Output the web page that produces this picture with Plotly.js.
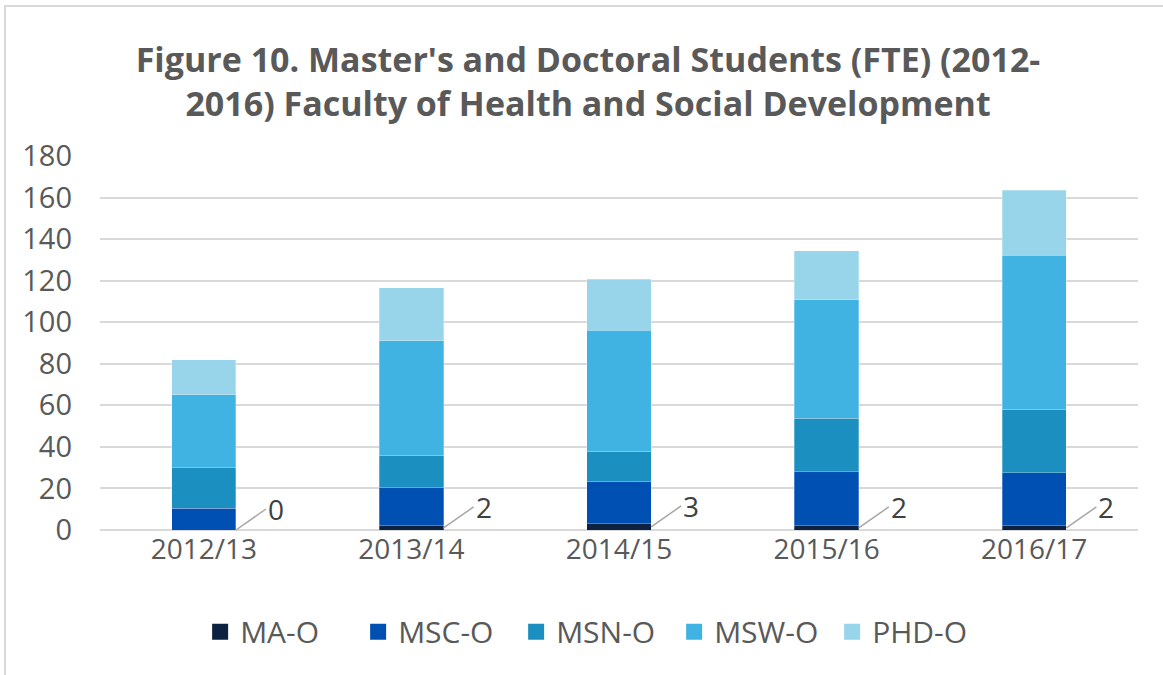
<!DOCTYPE html>
<html>
<head>
<meta charset="utf-8">
<script src="https://cdn.plot.ly/plotly-3.0.1.min.js"></script>
<style>
  html, body { margin: 0; padding: 0; background: #ffffff; }
  #wrap { position: relative; width: 1163px; height: 675px; overflow: hidden; }
  #frame { position: absolute; left: 4px; top: 5px; width: 1200px; height: 700px;
           border-top: 2px solid #d9d9d9; border-left: 2px solid #d9d9d9; pointer-events: none; }
  #chart { position: absolute; left: 0; top: 0; width: 1163px; height: 675px; }
</style>
</head>
<body>
<div id="wrap">
  <div id="chart"></div>
  <div id="frame"></div>
</div>
<script>
// ---- data ----
const categories = ["2012/13", "2013/14", "2014/15", "2015/16", "2016/17"];
const seriesNames = ["MA-O", "MSC-O", "MSN-O", "MSW-O", "PHD-O"];
const maO  = [0, 2, 3, 2, 2];
const mscO = [10.5, 18.4, 20.4, 26.1, 25.6];
const msnO = [19.5, 15.4, 14.6, 25.7, 30.6];
const mswO = [35, 55.2, 58.2, 56.9, 74.1];
const phdO = [17, 25.5, 24.4, 23.7, 31.3];
const yTicks = [0, 20, 40, 60, 80, 100, 120, 140, 160, 180];
const titleText = "Figure 10. Master's and Doctoral Students (FTE) (2012-<br>2016) Faculty of Health and Social Development";

// ---- styles ----
const colors = ["#0d2240", "#0050b4", "#1a8fc0", "#41b3e3", "#98d4ea"];
const seriesValues = [maO, mscO, msnO, mswO, phdO];
const barWidth = 0.31;
const fontFam = "'Open Sans', 'Noto Sans', sans-serif";

const traces = [];
seriesValues.forEach((vals, k) => {
  traces.push({
    type: "bar",
    name: seriesNames[k],
    x: categories,
    y: vals,
    width: barWidth,
    marker: { color: colors[k], line: { width: 0.8, color: "rgba(255,255,255,0.35)" } },
    showlegend: false,
    hoverinfo: "name+y"
  });
});
// legend entries with larger square swatches
seriesValues.forEach((vals, k) => {
  traces.push({
    type: "scatter",
    mode: "markers",
    name: seriesNames[k],
    x: [null],
    y: [null],
    marker: { symbol: "square", size: 20, color: colors[k] },
    showlegend: true,
    hoverinfo: "skip"
  });
});

// data labels for MA-O with leader lines
const annotations = maO.map((v, i) => ({
  x: i + barWidth / 2,
  y: v / 2,
  xref: "x",
  yref: "y",
  text: String(v),
  showarrow: true,
  arrowhead: 0,
  arrowwidth: 1.5,
  arrowcolor: "#a6a6a6",
  ax: 30,
  ay: -21,
  standoff: 0,
  font: { family: fontFam, size: 28, color: "#404040" },
  xanchor: "left"
}));

const layout = {
  width: 1163,
  height: 675,
  paper_bgcolor: "#ffffff",
  plot_bgcolor: "#ffffff",
  margin: { l: 100, r: 25, t: 156, b: 145 },
  barmode: "stack",
  title: {
    text: titleText,
    font: { family: fontFam, size: 34, color: "#595959", weight: "bold" },
    x: 0.5056,
    xref: "container",
    xanchor: "center",
    y: 0.893,
    yref: "container",
    yanchor: "middle"
  },
  xaxis: {
    type: "category",
    tickfont: { family: fontFam, size: 28, color: "#595959" },
    showgrid: false,
    showline: false,
    zeroline: false,
    ticks: "",
    ticklen: 0,
    range: [-0.5, 4.5]
  },
  yaxis: {
    range: [0, 180],
    tickvals: yTicks,
    ticktext: yTicks.map(String),
    tickfont: { family: fontFam, size: 29, color: "#595959" },
    showgrid: true,
    gridcolor: "#d9d9d9",
    gridwidth: 1.5,
    zeroline: true,
    zerolinecolor: "#d9d9d9",
    zerolinewidth: 1.5,
    showline: false,
    ticks: "",
    ticklabelstandoff: 27
  },
  legend: {
    orientation: "h",
    traceorder: "normal",
    entrywidth: 113,
    entrywidthmode: "pixels",
    x: 0.477,
    xanchor: "center",
    xref: "paper",
    y: -0.272,
    yanchor: "middle",
    font: { family: fontFam, size: 30, color: "#595959" },
    bgcolor: "rgba(0,0,0,0)"
  },
  annotations: annotations
};

Plotly.newPlot("chart", traces, layout, { displayModeBar: false, staticPlot: false });
</script>
</body>
</html>
